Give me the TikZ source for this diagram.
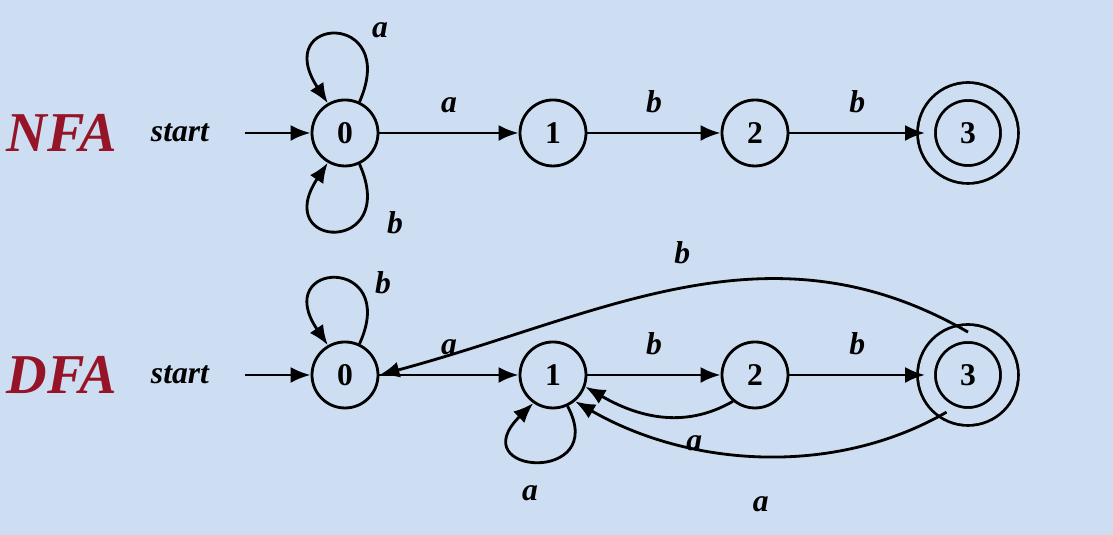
\documentclass[tikz,border=0pt]{standalone}
\usepackage{fontspec}
\setmainfont{Liberation Serif}
\usetikzlibrary{arrows.meta,positioning}
\definecolor{bgblue}{RGB}{205,222,242}
\definecolor{fatitle}{RGB}{150,20,40}
\tikzstyle{statenode}=[draw, circle, thick, minimum size=0.66cm, inner sep=0pt, font=\bfseries\small]
\tikzstyle{acceptnode}=[statenode, double=bgblue, double distance=0.15cm, minimum size=0.83cm]
\tikzstyle{trans}=[thick, -{Latex[length=2mm,width=1.6mm]}]
\tikzstyle{lbl}=[font=\bfseries\itshape\small]
\tikzstyle{fatitlenode}=[font=\bfseries\itshape\fontsize{16}{18}\selectfont, text=fatitle]
\begin{document}
\begin{tikzpicture}
    \fill[bgblue] (0,0) rectangle (11.13,5.35);
    \useasboundingbox (0,0) rectangle (11.13,5.35);

    % NFA
    \node[fatitlenode] (nfa) at (0.62,4.02) {NFA};
    \node[lbl] (nstart) at (1.80,4.02) {start};
    \node[statenode] (n0) at (3.45,4.02) {0};
    \node[statenode] (n1) at (5.53,4.02) {1};
    \node[statenode] (n2) at (7.55,4.02) {2};
    \node[acceptnode] (n3) at (9.68,4.02) {3};
    \coordinate (ns) at (2.45,4.02);

    \draw[trans] (ns) -- (n0);
    \draw[trans] (n0) -- node[lbl, above=2pt] {a} (n1);
    \draw[trans] (n1) -- node[lbl, above=2pt] {b} (n2);
    \draw[trans] (n2) -- node[lbl, above=2pt] {b} (n3);
    \draw[trans] (n0.65) .. controls (4.0,5.25) and (2.7,5.2) .. (n0.120);
    \node[lbl] at (3.80,5.05) {a};
    \draw[trans] (n0.-65) .. controls (4.0,2.8) and (2.7,2.85) .. (n0.-120);
    \node[lbl] at (3.95,3.12) {b};

    % DFA
    \node[fatitlenode] (dfa) at (0.62,1.60) {DFA};
    \node[lbl] (dstart) at (1.80,1.60) {start};
    \node[statenode] (d0) at (3.45,1.60) {0};
    \node[statenode] (d1) at (5.53,1.60) {1};
    \node[statenode] (d2) at (7.55,1.60) {2};
    \node[acceptnode] (d3) at (9.68,1.60) {3};
    \coordinate (ds) at (2.45,1.60);

    \draw[trans] (ds) -- (d0);
    \draw[trans] (d0) -- node[lbl, above=2pt] {a} (d1);
    \draw[trans] (d1) -- node[lbl, above=2pt] {b} (d2);
    \draw[trans] (d2) -- node[lbl, above=2pt] {b} (d3);
    \draw[trans] (d0.65) .. controls (4.0,2.8) and (2.7,2.75) .. (d0.120);
    \node[lbl] at (3.83,2.52) {b};
    \draw[trans] (d3.north) to[out=150,in=15] node[lbl, above=3pt] {b} (d0.east);
    \draw[trans] (d2.-130) to[out=-150,in=-30] node[lbl, below right=2pt and 4pt] {a} (d1.-20);
    \draw[trans] (d3.-120) to[out=-150,in=-30,looseness=0.9] node[lbl, below=8pt] {a} (d1.-50);
    \draw[trans] (d1.-65) .. controls (6.1,0.5) and (4.6,0.6) .. (d1.-125);
    \node[lbl] at (5.30,0.42) {a};
\end{tikzpicture}
\end{document}
